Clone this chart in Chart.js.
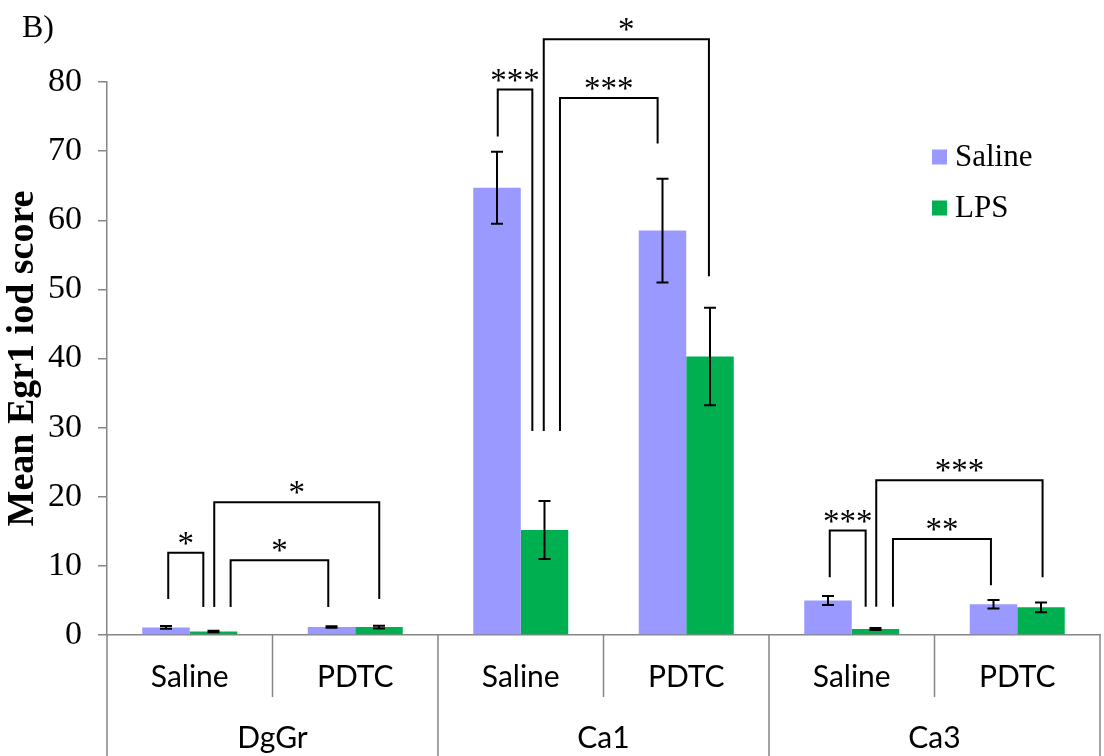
<!DOCTYPE html>
<html><head><meta charset="utf-8">
<script src="https://cdn.jsdelivr.net/npm/chart.js@4.4.1/dist/chart.umd.min.js"></script>
<style>html,body{margin:0;padding:0;background:#fff;}canvas{display:block;}</style>
</head><body>
<canvas id="c" width="1104" height="756"></canvas>
<script>
const regions = ['DgGr', 'Ca1', 'Ca3'];
const categories = ['Saline', 'PDTC', 'Saline', 'PDTC', 'Saline', 'PDTC'];
const seriesNames = ['Saline', 'LPS'];
const salineValues = [1.1, 1.15, 64.7, 58.5, 5.0, 4.45];
const lpsValues = [0.5, 1.15, 15.2, 40.3, 0.87, 4.0];
const salineErrors = [0.2, 0.1, 5.2, 7.5, 0.65, 0.6];
const lpsErrors = [0.1, 0.2, 4.2, 7.05, 0.15, 0.7];
const yTicks = [0, 10, 20, 30, 40, 50, 60, 70, 80];
// significance brackets (category index + offset in category widths; heights in data units)
const sigLabels = ['*', '*', '*', '***', '*', '***', '***', '**', '***'];
const sigFrom = [[0, -0.13], [0, 0.247], [0, 0.148], [2, -0.139], [2, 0.139], [2, 0.237], [4, -0.133], [4, 0.249], [4, 0.148]];
const sigTo = [[0, 0.082], [1, -0.163], [1, 0.145], [2, 0.070], [3, 0.137], [3, -0.173], [4, 0.084], [5, -0.159], [5, 0.153]];
const sigFromY = [5.2, 4.06, 4.06, 72.1, 29.5, 29.5, 8.36, 4.1, 4.1];
const sigToY = [4.06, 4.06, 5.2, 29.5, 51.9, 71.1, 4.1, 7.2, 8.36];
const sigTopY = [11.9, 10.8, 19.2, 78.9, 86.2, 77.7, 15.1, 13.9, 22.4];

const errorSets = [salineErrors, lpsErrors];
const colors = ['#9999FF', '#00B050'];
const axisGray = '#868686';

const extras = {
  id: 'extras',
  afterDatasetsDraw(chart) {
    const ctx = chart.ctx;
    const xs = chart.scales.x, ys = chart.scales.y;
    const area = chart.chartArea;
    const catW = xs.getPixelForValue(1) - xs.getPixelForValue(0);
    ctx.save();
    // error bars
    ctx.strokeStyle = '#000';
    ctx.lineWidth = 2;
    chart.data.datasets.forEach((ds, di) => {
      const meta = chart.getDatasetMeta(di);
      meta.data.forEach((bar, i) => {
        const v = ds.data[i], e = errorSets[di][i];
        const yt = ys.getPixelForValue(v + e), yb = ys.getPixelForValue(v - e);
        const x = bar.x;
        ctx.beginPath();
        ctx.moveTo(x, yt); ctx.lineTo(x, yb);
        ctx.moveTo(x - 6, yt); ctx.lineTo(x + 6, yt);
        ctx.moveTo(x - 6, yb); ctx.lineTo(x + 6, yb);
        ctx.stroke();
      });
    });
    // significance brackets
    ctx.font = '33px "Liberation Serif"';
    ctx.textAlign = 'center';
    ctx.textBaseline = 'alphabetic';
    ctx.fillStyle = '#000';
    sigLabels.forEach((lab, k) => {
      const x1 = xs.getPixelForValue(sigFrom[k][0]) + sigFrom[k][1] * catW;
      const x2 = xs.getPixelForValue(sigTo[k][0]) + sigTo[k][1] * catW;
      const yt = ys.getPixelForValue(sigTopY[k]);
      ctx.beginPath();
      ctx.moveTo(x1, ys.getPixelForValue(sigFromY[k]));
      ctx.lineTo(x1, yt); ctx.lineTo(x2, yt);
      ctx.lineTo(x2, ys.getPixelForValue(sigToY[k]));
      ctx.stroke();
      ctx.fillText(lab, (x1 + x2) / 2, yt + 1);
    });
    // hierarchical category axis
    ctx.strokeStyle = axisGray;
    ctx.lineWidth = 1.5;
    for (let k = 0; k <= categories.length; k++) {
      const x = area.left + k * catW;
      ctx.beginPath();
      ctx.moveTo(x, area.bottom);
      ctx.lineTo(x, k % 2 === 0 ? chart.height : area.bottom + 62);
      ctx.stroke();
    }
    ctx.font = '30px Lato';
    ctx.fillStyle = '#000';
    categories.forEach((c, i) => ctx.fillText(c, xs.getPixelForValue(i), area.bottom + 52));
    regions.forEach((r, g) => ctx.fillText(r, area.left + (2 * g + 1) * catW, area.bottom + 113));
    // legend
    ctx.textAlign = 'left';
    ctx.textBaseline = 'middle';
    ctx.font = '31px "Liberation Serif"';
    chart.data.datasets.forEach((ds, di) => {
      const cy = 157 + di * 51;
      ctx.fillStyle = ds.backgroundColor;
      ctx.fillRect(932, cy - 7.5, 15, 15);
      ctx.fillStyle = '#000';
      ctx.fillText(ds.label, 955, cy + 1);
    });
    // panel label
    ctx.textBaseline = 'alphabetic';
    ctx.font = '32px "Liberation Serif"';
    ctx.fillText('B)', 22, 37);
    ctx.restore();
  }
};

new Chart(document.getElementById('c'), {
  type: 'bar',
  data: {
    labels: categories,
    datasets: [
      { label: seriesNames[0], data: salineValues, backgroundColor: colors[0], borderWidth: 0, categoryPercentage: 0.574, barPercentage: 1 },
      { label: seriesNames[1], data: lpsValues, backgroundColor: colors[1], borderWidth: 0, categoryPercentage: 0.574, barPercentage: 1 }
    ]
  },
  options: {
    responsive: false,
    animation: false,
    devicePixelRatio: 1,
    layout: { padding: { top: 82, right: 4, bottom: 121, left: 0 } },
    plugins: { legend: { display: false }, tooltip: { enabled: false } },
    scales: {
      x: {
        grid: { display: false, drawTicks: false },
        ticks: { display: false },
        border: { color: axisGray, width: 1.5 }
      },
      y: {
        min: 0, max: 80,
        afterFit(scale) { scale.width = 107; },
        afterBuildTicks(scale) { scale.ticks = yTicks.map(v => ({ value: v })); },
        ticks: { font: { family: 'Liberation Serif', size: 34 }, color: '#000', padding: 16 },
        grid: { drawOnChartArea: false, drawTicks: true, tickLength: 9, color: axisGray, lineWidth: 1.5 },
        border: { color: axisGray, width: 1.5 },
        title: { display: true, text: 'Mean Egr1 iod score', color: '#000',
                 font: { family: 'Liberation Serif', size: 38, weight: 'bold' }, padding: { top: 0, bottom: 0 } }
      }
    }
  },
  plugins: [extras]
});
</script>
</body></html>
